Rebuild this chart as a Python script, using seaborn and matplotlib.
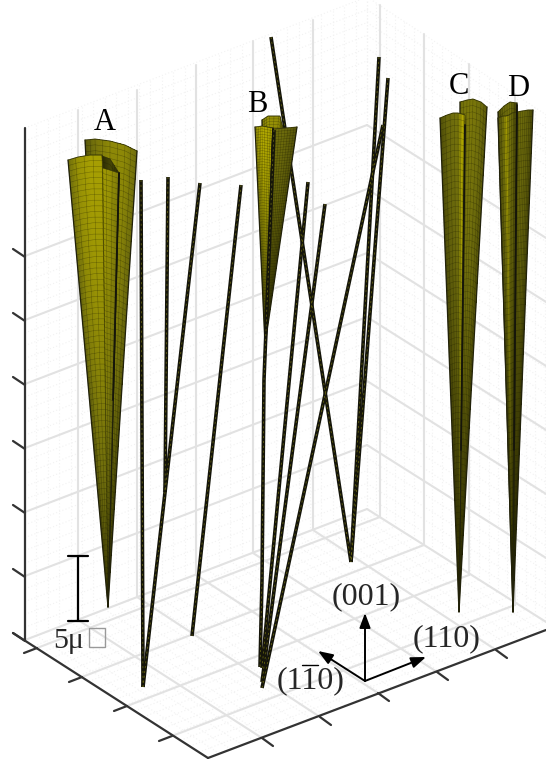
import numpy as np
import pandas as pd
import matplotlib
matplotlib.use("Agg")
import matplotlib.pyplot as plt
from matplotlib.collections import LineCollection
from matplotlib.colors import LinearSegmentedColormap
from matplotlib.patches import Rectangle
import seaborn as sns

sns.set_style("white")
plt.rcParams["font.family"] = ["Liberation Serif", "DejaVu Serif"]

wall_left_x = [78, 137, 196, 253, 313]
wall_left_base = [620, 597, 575, 553, 530]
wall_left_top = [110, 90, 65, 41, 20]
wall_right_x = [380, 424, 469, 515]
wall_right_base = [517, 545, 575, 605]
wall_right_top = [5, 34, 64, 94]
level_steps = [1, 2, 3, 4, 5, 6]
level_size = 64

floor_a_x = [37, 82, 127, 172]
floor_a_y = [648, 677, 706, 736]
floor_b_x = [262, 320, 378, 437, 496]
floor_b_y = [738, 717, 693, 672, 650]

corner_left = [25, 640]
corner_back = [367, 509]
corner_front = [208, 758]
corner_right = [554, 627]

fibers = {
    "f1": ([141, 143], [180, 687]),
    "f2": ([168, 165], [177, 492]),
    "f3": ([200, 143], [183, 687]),
    "f4": ([241, 192], [185, 636]),
    "f5": ([271, 351], [37, 562]),
    "f6": ([379, 351], [57, 562]),
    "f7": ([388, 351], [78, 562]),
    "f8": ([383, 262], [125, 688]),
    "f9": ([308, 262], [182, 668]),
    "f10": ([325, 262], [204, 682]),
}
fiber_front_x = [274, 264, 262, 260]
fiber_front_y = [130, 380, 580, 667]

# cone lobes: top rim x, top rim y, shade along the rim, tip
lobes = [
    ("A back", [85, 95, 110, 125, 137], [140, 139, 141, 145, 151], [.35, .55, .72, .72, .5], (108, 607)),
    ("A slot", [102, 110, 119], [156, 159, 173], [.1, .28, .1], (108, 607)),
    ("A front", [68, 78, 90, 102, 103, 110, 119], [160, 157, 155, 155, 168, 170, 173], [.5, .8, .9, .9, .85, .78, .6], (108, 607)),
    ("B back", [262, 268, 280, 283], [120, 116, 116, 128], [.6, .8, .75, .55], (265, 345)),
    ("B left", [255, 262, 273], [127, 126, 128], [.75, 1, .9], (265, 345)),
    ("B right", [273, 285, 297], [129, 128, 127], [.5, .48, .35], (265, 345)),
    ("C back", [460, 467, 473, 481, 487], [102, 100, 99, 102, 107], [.5, .58, .58, .5, .38], (459, 612)),
    ("C left", [440, 447, 453, 458, 462, 465, 465], [118, 115, 113, 113, 114, 115, 125], [.3, .45, .5, .55, .95, .95, .95], (459, 612)),
    ("D back", [498, 504, 510, 517], [112, 106, 102, 103], [.28, .48, .52, .22], (513, 612)),
    ("D left", [498, 503, 506, 509, 512, 517], [118, 116, 116, 115, 113, 112], [.3, .5, .9, .55, .45, .2], (513, 612)),
    ("D right", [517, 522, 528, 533], [112, 111, 110, 110], [.45, .48, .42, .28], (513, 612)),
]
slits = {
    "A": ([119, 113], [173, 400]),
    "B": ([273, 266], [129, 345]),
    "C": ([465, 461], [125, 450]),
    "D": ([517, 514], [105, 450]),
}
letters = ["A", "B", "C", "D"]
letters_x = [105, 257, 459, 518]
letters_y = [123, 105, 87, 89]

axis_origin = (365, 681)
arrow_tips = [(365, 613), (426, 657), (318, 651)]
miller = ["(001)", "(110)", "(110)"]
miller_x = [366, 447, 311]
miller_y = [597, 639, 681]

fig, ax = plt.subplots(figsize=(5.46, 7.59), dpi=100)
fig.subplots_adjust(0, 0, 1, 1)
grid_color = "#e2e2e2"
dot_color = "#f2f2f2"
edge_color = "#333333"


def draw_segments(segs, **kw):
    rows = []
    for i, (x0, y0, x1, y1) in enumerate(segs):
        rows.append({"seg": i, "x": x0, "y": y0})
        rows.append({"seg": i, "x": x1, "y": y1})
    df = pd.DataFrame(rows)
    sns.lineplot(data=df, x="x", y="y", units="seg", estimator=None, sort=False,
                 legend=False, ax=ax, **kw)


def quad_lines(a, b, c, d, nu, nv):
    # dotted minor net over a wall or the floor, corners a-b-c-d
    a, b, c, d = [np.array(p, float) for p in (a, b, c, d)]
    out = []
    for u in np.linspace(0, 1, nu + 1):
        p, q = a + (b - a) * u, d + (c - d) * u
        out.append((p[0], p[1], q[0], q[1]))
    for v in np.linspace(0, 1, nv + 1):
        p, q = a + (d - a) * v, b + (c - b) * v
        out.append((p[0], p[1], q[0], q[1]))
    return out


top_back = (367, -3)
top_left = (25, 128)
top_right = (554, 120)
minor = quad_lines(corner_left, corner_back, top_back, top_left, 30, 40)
minor += quad_lines(corner_back, corner_right, top_right, top_back, 20, 40)
minor += quad_lines(corner_left, corner_back, corner_right, corner_front, 30, 20)
draw_segments(minor, color=dot_color, lw=0.8, linestyle=(0, (1, 2)))

major = []
for x, b, t in zip(wall_left_x, wall_left_base, wall_left_top):
    major.append((x, b, x, t))
for x, b, t in zip(wall_right_x, wall_right_base, wall_right_top):
    major.append((x, b, x, t))
for k in level_steps:
    major.append((corner_left[0], corner_left[1] - k * level_size, corner_back[0], corner_back[1] - k * level_size))
    major.append((corner_back[0], corner_back[1] - k * level_size, corner_right[0], corner_right[1] - k * level_size))
major.append((corner_left[0], corner_left[1], corner_back[0], corner_back[1]))
major.append((corner_back[0], corner_back[1], corner_right[0], corner_right[1]))
for x, y, wx, wy in zip(floor_a_x, floor_a_y, wall_right_x, wall_right_base):
    major.append((x, y, wx, wy))
for x, y, wx, wy in zip(floor_b_x, floor_b_y, wall_left_x, wall_left_base):
    major.append((x, y, wx, wy))
draw_segments(major, color=grid_color, lw=1.5)

# box edges and ticks
edges = [(25, 128, 25, 640), (13, 633, 208, 758), (208, 758, 546, 630)]
ticks = [(13, 249 + 64 * i, 25, 257 + 64 * i) for i in range(7)]
ticks += [(x - 13, y + 5, x, y) for x, y in zip(floor_a_x, floor_a_y)]
ticks += [(x, y, x + 11, y + 8) for x, y in zip(floor_b_x, floor_b_y)]
draw_segments(edges + ticks, color=edge_color, lw=1.6)

yellow = LinearSegmentedColormap.from_list("cone", ["#1c1c02", "#6f6d0c", "#b4ab00"])


def draw_lobe(rim_x, rim_y, shade, tip, z):
    u = np.linspace(0, 1, 41)
    s = np.linspace(0, 1, len(rim_x))
    rx, ry = np.interp(u, s, rim_x), np.interp(u, s, rim_y)
    t = np.linspace(0, 1, 81)[:, None]
    X = rx + (tip[0] - rx) * t
    Y = ry + (tip[1] - ry) * t
    # cones get darker toward the tip, the net closes up there
    fade = 1 - 0.75 * ((t[:-1] + t[1:]) / 2) ** 1.5
    C = np.interp((u[:-1] + u[1:]) / 2, s, shade) * fade
    ax.pcolormesh(X, Y, C, cmap=yellow, vmin=0, vmax=1, shading="flat",
                  edgecolors="none", antialiased=False, zorder=z)
    # surface net, thin and see-through so the yellow stays
    net = [np.column_stack([X[:, j], Y[:, j]]) for j in range(0, 41, 5)]
    net += [np.column_stack([X[i, :], Y[i, :]]) for i in range(0, 81)]
    ax.add_collection(LineCollection(net, colors="#1a1a00", linewidths=0.35, alpha=0.4, zorder=z + 0.05))
    ax.plot([rim_x[0], tip[0], rim_x[-1]], [rim_y[0], tip[1], rim_y[-1]],
            color="#22220a", lw=0.9, zorder=z + 0.1)
    ax.plot(rim_x, rim_y, color="#3a3a08", lw=0.6, zorder=z + 0.1)


def draw_fiber(xs, ys, z):
    ax.plot(xs, ys, color="#15150a", lw=2.6, solid_capstyle="butt", zorder=z)
    ax.plot(xs, ys, color="#6d6b10", lw=0.5, linestyle=(0, (3, 4)), zorder=z + 0.1)


for i, (name, (xs, ys)) in enumerate(fibers.items()):
    draw_fiber(xs, ys, 3 + i * 0.01)
for i, (name, rx, ry, sh, tip) in enumerate(lobes):
    draw_lobe(rx, ry, sh, tip, 4 + i * 0.2)
for xs, ys in slits.values():
    ax.plot(xs, ys, color="#15150a", lw=1.3, zorder=7)
draw_fiber(fiber_front_x, fiber_front_y, 8)

for s, x, y in zip(letters, letters_x, letters_y):
    ax.text(x, y, s, fontsize=22, color="black", ha="center", va="center", zorder=12)

# scale bar
draw_segments([(78, 556, 78, 621), (68, 556, 88, 556), (68, 621, 88, 621)], color="black", lw=1.6)
ax.text(53, 641, "5μ", fontsize=21.5, ha="left", va="center", zorder=12)
ax.add_patch(Rectangle((88.5, 628), 16.5, 19, fill=False, ec="#999999", lw=1, zorder=12))

# direction arrows
for tip_xy in arrow_tips:
    ax.annotate("", xy=tip_xy, xytext=axis_origin, zorder=11,
                arrowprops=dict(arrowstyle="-|>,head_length=0.8,head_width=0.3", color="black",
                                lw=1.4, shrinkA=0, shrinkB=0, mutation_scale=11))
for s, x, y in zip(miller, miller_x, miller_y):
    ax.text(x, y, s, fontsize=23, ha="center", va="center", zorder=12)
ax.plot([302, 318], [665, 665], color="black", lw=1, zorder=12)

ax.set_xlim(0, 546)
ax.set_ylim(759, 0)
ax.axis("off")
fig.savefig("out.png", dpi=100)
